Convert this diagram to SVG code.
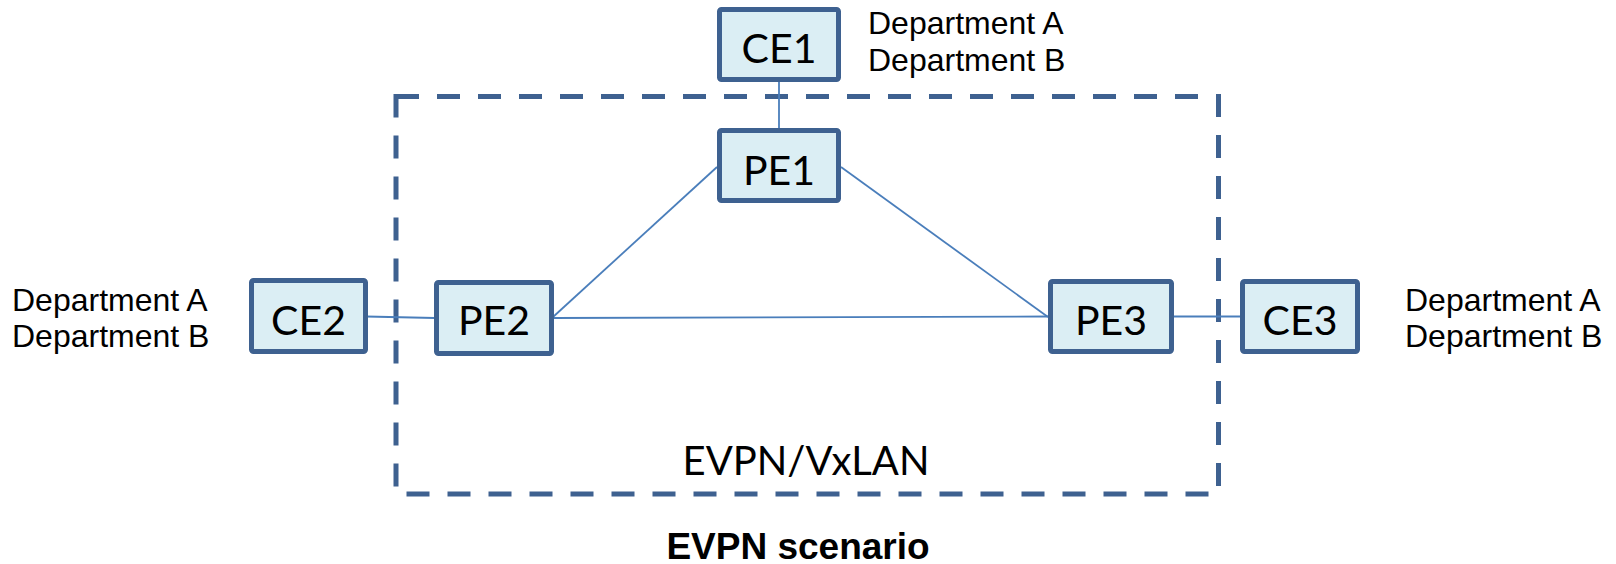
<svg xmlns="http://www.w3.org/2000/svg" width="1616" height="564" viewBox="0 0 1616 564">
<style>
.box{fill:#dbeef4;stroke:#3e6190;stroke-width:5}
.lbl{font-family:Lato,"Liberation Sans",sans-serif;font-size:41px;fill:#000;text-anchor:middle}
.dept{font-family:"Liberation Sans",Arial,sans-serif;font-size:32px;fill:#000}
.link{stroke:#4a7ebb;stroke-width:1.8;fill:none}
.area{fill:none;stroke:#3e6190;stroke-width:5;stroke-dasharray:23 18}
</style>
<rect width="1616" height="564" fill="#fff"/>
<g id="evpn-area">
<path class="area" d="M396,96.5 H1218.5 V494 H396 Z"/>
<text x="806" y="475" font-family="Lato,'Liberation Sans',sans-serif" font-size="40" text-anchor="middle">EVPN/VxLAN</text>
</g>
<g id="connectors">
<line class="link" x1="779" y1="80" x2="779" y2="130"/>
<line class="link" x1="717" y1="167" x2="553" y2="317"/>
<line class="link" x1="841" y1="167" x2="1048" y2="317"/>
<line class="link" x1="553" y1="318" x2="1048" y2="316.5"/>
<line class="link" x1="366" y1="316.5" x2="435" y2="318"/>
<line class="link" x1="1172" y1="316.5" x2="1241" y2="316.5"/>
</g>
<g id="CE1"><rect class="box" x="719.5" y="9.5" width="119" height="70" rx="2"/><text class="lbl" x="779" y="63">CE1</text></g>
<g id="PE1"><rect class="box" x="719.5" y="130.5" width="119" height="70" rx="2"/><text class="lbl" x="779" y="185">PE1</text></g>
<g id="CE2"><rect class="box" x="251.5" y="280.5" width="114" height="71" rx="2"/><text class="lbl" x="308.5" y="335">CE2</text></g>
<g id="PE2"><rect class="box" x="436.5" y="282.5" width="115" height="71" rx="2"/><text class="lbl" x="494" y="335">PE2</text></g>
<g id="PE3"><rect class="box" x="1050.5" y="281.5" width="121" height="70" rx="2"/><text class="lbl" x="1111" y="335">PE3</text></g>
<g id="CE3"><rect class="box" x="1242.5" y="281.5" width="115" height="70" rx="2"/><text class="lbl" x="1300" y="335">CE3</text></g>
<g id="dept-top"><text class="dept" x="868" y="34">Department A</text><text class="dept" x="868" y="71">Department B</text></g>
<g id="dept-left"><text class="dept" x="12" y="311">Department A</text><text class="dept" x="12" y="347">Department B</text></g>
<g id="dept-right"><text class="dept" x="1405" y="311">Department A</text><text class="dept" x="1405" y="347">Department B</text></g>
<text x="798" y="559" font-family="'Liberation Sans',Arial,sans-serif" font-size="37" font-weight="bold" text-anchor="middle">EVPN scenario</text>
</svg>
